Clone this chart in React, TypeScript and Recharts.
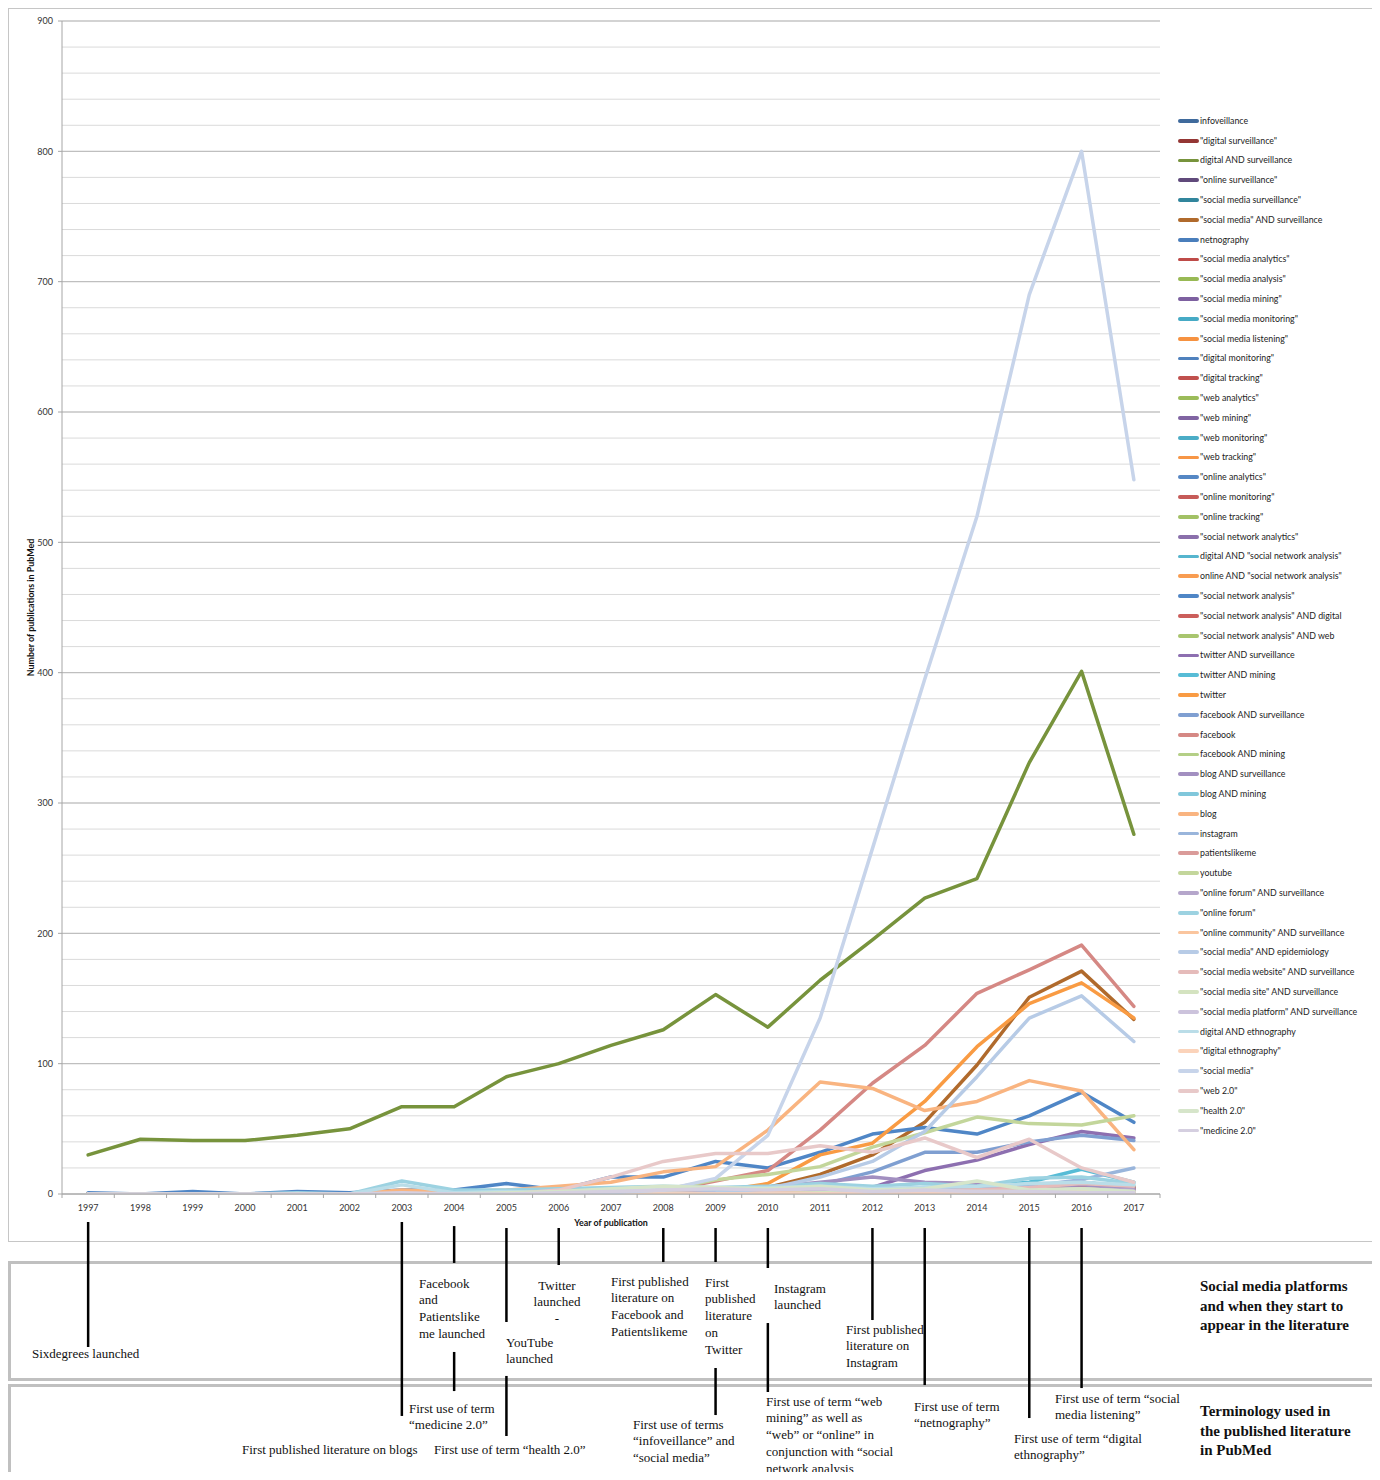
import React from 'react';
import { LineChart, Line, XAxis, YAxis, CartesianGrid, Legend, ReferenceLine, Label } from 'recharts';

// ---------- categories ----------
const YEARS = ['1997','1998','1999','2000','2001','2002','2003','2004','2005','2006','2007','2008','2009','2010','2011','2012','2013','2014','2015','2016','2017'];
const Y_MAJOR_TICKS = [0, 100, 200, 300, 400, 500, 600, 700, 800, 900];
const Y_MINOR_TICKS = Array.from({ length: 46 }, (_, i) => i * 20);

// ---------- series values (1997 .. 2017) ----------
const infoveillance = [0,0,0,0,0,0,0,0,0,0,0,0,1,2,3,2,3,2,3,2,1];
const digitalSurveillanceQ = [0,0,0,0,0,0,0,0,0,0,0,0,0,0,1,1,2,3,4,6,5];
const digitalAndSurveillance = [30,42,41,41,45,50,67,67,90,100,114,126,153,128,164,195,227,242,331,401,276];
const onlineSurveillanceQ = [0,0,0,0,0,0,0,0,1,0,0,1,0,1,2,2,3,2,3,4,2];
const smSurveillanceQ = [0,0,0,0,0,0,0,0,0,0,0,0,0,0,1,2,4,5,7,9,5];
const smAndSurveillance = [0,0,0,0,0,0,0,0,0,0,0,0,1,5,15,30,55,99,151,171,134];
const netnography = [0,0,0,0,0,0,0,0,0,0,0,0,0,0,0,0,1,2,1,3,2];
const smAnalyticsQ = [0,0,0,0,0,0,0,0,0,0,0,0,0,0,0,1,1,2,3,4,3];
const smAnalysisQ = [0,0,0,0,0,0,0,0,0,0,0,0,0,1,1,3,4,6,5,8,6];
const smMiningQ = [0,0,0,0,0,0,0,0,0,0,0,0,0,0,0,1,2,3,4,6,5];
const smMonitoringQ = [0,0,0,0,0,0,0,0,0,0,0,0,0,0,1,2,4,5,6,8,5];
const smListeningQ = [0,0,0,0,0,0,0,0,0,0,0,0,0,0,0,0,0,0,0,1,1];
const digitalMonitoringQ = [0,0,0,0,0,0,1,0,1,0,2,1,2,3,2,4,3,4,6,9,5];
const digitalTrackingQ = [0,0,0,0,0,0,0,0,1,0,0,0,1,0,1,1,2,2,3,2,2];
const webAnalyticsQ = [0,0,0,0,0,0,0,0,0,1,0,1,0,2,1,1,1,2,2,1,1];
const webMiningQ = [0,0,0,0,0,0,0,0,0,0,0,0,0,1,2,2,1,2,1,1,1];
const webMonitoringQ = [0,0,0,0,0,1,0,1,0,1,1,2,1,1,2,1,2,1,2,1,1];
const webTrackingQ = [0,0,0,0,0,0,0,0,0,0,1,0,0,1,1,2,1,2,1,2,1];
const onlineAnalyticsQ = [0,0,0,0,0,0,0,0,0,0,0,0,0,0,0,0,0,1,0,0,0];
const onlineMonitoringQ = [0,0,0,0,0,0,1,0,0,1,0,1,2,2,3,2,4,3,4,5,3];
const onlineTrackingQ = [0,0,0,0,0,0,0,0,0,0,0,1,0,0,0,1,0,0,1,1,0];
const snAnalyticsQ = [0,0,0,0,0,0,0,0,0,0,0,0,0,0,0,0,0,1,0,1,1];
const digitalAndSna = [0,0,0,0,0,0,0,0,0,0,0,0,0,1,0,1,2,3,2,4,3];
const onlineAndSna = [0,0,0,0,0,0,0,0,0,0,0,0,0,1,2,3,4,5,4,6,5];
const snaQ = [1,0,2,0,2,1,3,3,8,3,13,13,25,20,32,46,51,46,60,78,55];
const snaAndDigital = [0,0,0,0,0,0,0,0,0,0,0,0,1,0,1,2,3,4,4,7,4];
const snaAndWeb = [0,0,0,0,0,0,0,0,0,0,0,1,2,1,3,2,2,3,2,3,1];
const twitterAndSurveillance = [0,0,0,0,0,0,0,0,0,0,0,0,0,1,3,5,18,26,38,48,43];
const twitterAndMining = [0,0,0,0,0,0,0,0,0,0,0,0,0,0,1,3,5,6,9,19,9];
const twitter = [0,0,0,0,0,0,0,0,0,0,0,0,2,8,30,39,71,113,146,162,135];
const facebookAndSurveillance = [0,0,0,0,0,0,0,0,0,0,0,0,0,2,7,17,32,32,40,45,41];
const facebook = [0,0,0,0,0,0,0,0,0,0,0,2,10,18,49,85,114,154,172,191,144];
const facebookAndMining = [0,0,0,0,0,0,0,0,0,0,0,0,0,0,1,1,2,2,3,4,2];
const blogAndSurveillance = [0,0,0,0,0,0,0,0,0,0,1,2,3,5,9,13,9,8,6,7,4];
const blogAndMining = [0,0,0,0,0,0,0,0,0,0,1,1,2,3,4,3,4,3,3,2,1];
const blog = [0,0,0,0,0,0,3,2,3,6,9,17,21,49,86,81,64,71,87,79,34];
const instagram = [0,0,0,0,0,0,0,0,0,0,0,0,0,0,0,1,1,3,6,11,20];
const patientslikeme = [0,0,0,0,0,0,0,0,0,0,0,1,1,2,3,2,4,3,4,3,2];
const youtube = [0,0,0,0,0,0,0,0,0,0,1,3,11,15,21,36,47,59,54,53,60];
const onlineForumAndSurveillance = [0,0,0,0,0,0,0,0,1,0,1,0,1,1,2,2,3,4,3,4,3];
const onlineForumQ = [0,0,0,0,1,0,10,3,3,4,5,6,5,6,8,6,8,6,12,13,8];
const onlineCommunityAndSurveillance = [0,0,0,0,0,0,0,0,0,1,0,1,0,1,1,2,2,3,2,3,1];
const smAndEpidemiology = [0,0,0,0,0,0,0,0,0,0,0,0,1,4,13,25,48,90,135,152,117];
const smWebsiteAndSurveillance = [0,0,0,0,0,0,0,0,0,0,0,0,0,0,1,1,2,3,5,8,6];
const smSiteAndSurveillance = [0,0,0,0,0,0,0,0,0,0,0,0,0,0,1,1,1,2,2,4,2];
const smPlatformAndSurveillance = [0,0,0,0,0,0,0,0,0,0,0,0,0,0,0,1,1,1,2,3,2];
const digitalAndEthnography = [0,0,0,0,0,0,7,1,2,1,2,3,4,5,6,4,5,6,8,9,7];
const digitalEthnographyQ = [0,0,0,0,0,0,0,0,0,0,0,0,0,0,0,0,0,0,1,2,1];
const socialMediaQ = [0,0,0,0,0,0,0,0,0,0,1,3,12,45,135,265,395,520,690,800,548];
const web20Q = [0,0,0,0,0,0,0,0,0,3,13,25,31,31,37,32,43,28,42,20,9];
const health20Q = [0,0,0,0,0,0,0,0,1,2,4,6,5,4,6,3,4,10,3,4,2];
const medicine20Q = [0,0,0,0,0,0,1,0,0,1,2,3,4,3,4,2,3,2,2,1,1];

// ---------- series names (legend order) ----------
const SERIES_NAMES = [
  'infoveillance', '"digital surveillance"', 'digital AND surveillance', '"online surveillance"',
  '"social media surveillance"', '"social media" AND surveillance', 'netnography', '"social media analytics"',
  '"social media analysis"', '"social media mining"', '"social media monitoring"', '"social media listening"',
  '"digital monitoring"', '"digital tracking"', '"web analytics"', '"web mining"', '"web monitoring"',
  '"web tracking"', '"online analytics"', '"online monitoring"', '"online tracking"', '"social network analytics"',
  'digital AND "social network analysis"', 'online AND "social network analysis"', '"social network analysis"',
  '"social network analysis" AND digital', '"social network analysis" AND web', 'twitter AND surveillance',
  'twitter AND mining', 'twitter', 'facebook AND surveillance', 'facebook', 'facebook AND mining',
  'blog AND surveillance', 'blog AND mining', 'blog', 'instagram', 'patientslikeme', 'youtube',
  '"online forum" AND surveillance', '"online forum"', '"online community" AND surveillance',
  '"social media" AND epidemiology', '"social media website" AND surveillance', '"social media site" AND surveillance',
  '"social media platform" AND surveillance', 'digital AND ethnography', '"digital ethnography"', '"social media"',
  '"web 2.0"', '"health 2.0"', '"medicine 2.0"',
];

const SERIES_VALUES = [
  infoveillance, digitalSurveillanceQ, digitalAndSurveillance, onlineSurveillanceQ, smSurveillanceQ,
  smAndSurveillance, netnography, smAnalyticsQ, smAnalysisQ, smMiningQ, smMonitoringQ, smListeningQ,
  digitalMonitoringQ, digitalTrackingQ, webAnalyticsQ, webMiningQ, webMonitoringQ, webTrackingQ,
  onlineAnalyticsQ, onlineMonitoringQ, onlineTrackingQ, snAnalyticsQ, digitalAndSna, onlineAndSna, snaQ,
  snaAndDigital, snaAndWeb, twitterAndSurveillance, twitterAndMining, twitter, facebookAndSurveillance,
  facebook, facebookAndMining, blogAndSurveillance, blogAndMining, blog, instagram, patientslikeme, youtube,
  onlineForumAndSurveillance, onlineForumQ, onlineCommunityAndSurveillance, smAndEpidemiology,
  smWebsiteAndSurveillance, smSiteAndSurveillance, smPlatformAndSurveillance, digitalAndEthnography,
  digitalEthnographyQ, socialMediaQ, web20Q, health20Q, medicine20Q,
];

// ---------- styles ----------
const SERIES_COLORS = [
  '#3F6A9C', '#943634', '#77933C', '#604A7B', '#31859C', '#B06A2C',
  '#4A7EBB', '#BE4B48', '#98B954', '#7D60A0', '#46AAC5', '#F69240',
  '#4F81BD', '#C0504D', '#9BBB59', '#8064A2', '#4BACC6', '#F79646',
  '#5587C4', '#C65B58', '#A2C165', '#8A6FAB', '#56B5CE', '#F89C51',
  '#4F86C6', '#CB5E5B', '#A8C56E', '#8D6FB0', '#57BCD6', '#F99B43',
  '#7F9FD1', '#D58884', '#B4CF86', '#A28FC0', '#80C7DB', '#F9B480',
  '#99B5DB', '#DA9B99', '#C3D69B', '#B5A6CB', '#9CD2E1', '#FAC59E',
  '#B7CBE6', '#E5BBBA', '#D4E3C0', '#CCC3DC', '#BADDE8', '#FBD3BA',
  '#C7D4EA', '#E8C9C9', '#D6E5CA', '#D5CFE0',
];

// ---------- timeline annotations (year, vertical extent in axis units below 0) ----------
const MARKERS = [
  { year: '1997', from: -21.5, to: -117.4 },
  { year: '2003', from: -21.5, to: -170.3 },
  { year: '2004', from: -24.6, to: -52.9 },
  { year: '2004', from: -121.2, to: -151.2 },
  { year: '2005', from: -26.1, to: -98.2 },
  { year: '2005', from: -139.6, to: -185.7 },
  { year: '2006', from: -26.1, to: -54.5 },
  { year: '2008', from: -26.1, to: -52.2 },
  { year: '2009', from: -26.1, to: -52.2 },
  { year: '2009', from: -133.5, to: -169.6 },
  { year: '2010', from: -26.1, to: -56.8 },
  { year: '2010', from: -99.0, to: -151.9 },
  { year: '2012', from: -26.1, to: -96.7 },
  { year: '2013', from: -26.1, to: -146.6 },
  { year: '2015', from: -26.1, to: -171.9 },
  { year: '2016', from: -26.1, to: -148.9 },
];

const SERIES = SERIES_NAMES.map((name, i) => ({ key: 's' + i, name, color: SERIES_COLORS[i], values: SERIES_VALUES[i] }));
const DATA = YEARS.map((year, yi) => {
  const row: Record<string, string | number> = { year };
  SERIES.forEach((s) => { row[s.key] = s.values[yi]; });
  return row;
});

// ---------- layout ----------
const W = 1370;
const H = 1472;
const MARGIN = { top: 13, right: 218, bottom: 256, left: 0 };
const Y_AXIS_W = 54;
const X_AXIS_H = 30;
const PLOT_W = W - MARGIN.right - MARGIN.left - Y_AXIS_W;
const HALF_BAND = PLOT_W / YEARS.length / 2;
const X_TICK_SIZE = 4;
const X_TICK_MARGIN = 4;
const AXIS_COLOR = '#a6a6a6';
const TEXT_COLOR = '#333333';
const SERIF = '"Liberation Serif", "Times New Roman", serif';

const XTick = (props: any) => {
  const { x, y, payload, index } = props;
  const axisY = y - X_TICK_SIZE - X_TICK_MARGIN;
  return (
    <g>
      <line x1={x + HALF_BAND} x2={x + HALF_BAND} y1={axisY} y2={axisY + 4} stroke={AXIS_COLOR} />
      {index === 0 && <line x1={x - HALF_BAND} x2={x - HALF_BAND} y1={axisY} y2={axisY + 4} stroke={AXIS_COLOR} />}
      <text x={x} y={axisY + 13} textAnchor="middle" dominantBaseline="central" fontSize={9} fill={TEXT_COLOR}>
        {payload.value}
      </text>
    </g>
  );
};

const YLabel = (props: any) => {
  const vb = props.viewBox || { x: 0, y: 0, width: 0, height: 0 };
  const cx = vb.x + 22;
  const cy = vb.y + vb.height / 2;
  return (
    <text x={cx} y={cy} transform={`rotate(-90 ${cx} ${cy})`} textAnchor="middle" dominantBaseline="central"
      fontSize={8.9} fontWeight={700} fill="#111">
      Number of publications in PubMed
    </text>
  );
};

const XLabel = (props: any) => {
  const vb = props.viewBox || { x: 0, y: 0, width: 0, height: 0 };
  return (
    <text x={vb.x + vb.width / 2} y={vb.y + 28} textAnchor="middle" dominantBaseline="central"
      fontSize={8.9} fontWeight={700} fill="#111">
      Year of publication
    </text>
  );
};

const LegendContent = () => (
  <div style={{ width: 200 }}>
    {SERIES.map((s) => (
      <div key={s.key} style={{ height: 19.8, display: 'flex', alignItems: 'center' }}>
        <span style={{ width: 21, height: 3.8, background: s.color, borderRadius: 2, marginRight: 1, flex: 'none' }} />
        <span style={{ fontSize: 8.8, color: '#222', whiteSpace: 'nowrap', lineHeight: '10px' }}>{s.name}</span>
      </div>
    ))}
  </div>
);

type Note = { left: number; top: number; lines: string[]; align?: 'left' | 'center'; width?: number; bold?: boolean };
const NOTES: Note[] = [
  { left: 24, top: 1337.7, lines: ['Sixdegrees launched'] },
  { left: 411, top: 1267.7, lines: ['Facebook', 'and', 'Patientslike', 'me launched'] },
  { left: 519, top: 1269.7, lines: ['Twitter', 'launched', '-'], align: 'center', width: 60 },
  { left: 498, top: 1326.7, lines: ['YouTube', 'launched'] },
  { left: 603, top: 1265.7, lines: ['First published', 'literature on', 'Facebook and', 'Patientslikeme'] },
  { left: 697, top: 1266.7, lines: ['First', 'published', 'literature', 'on', 'Twitter'] },
  { left: 766, top: 1272.7, lines: ['Instagram', 'launched'] },
  { left: 838, top: 1313.7, lines: ['First published', 'literature on', 'Instagram'] },
  { left: 401, top: 1392.7, lines: ['First use of term', '\u201Cmedicine 2.0\u201D'] },
  { left: 234, top: 1433.7, lines: ['First published literature on blogs'] },
  { left: 426, top: 1433.7, lines: ['First use of term \u201Chealth 2.0\u201D'] },
  { left: 625, top: 1408.7, lines: ['First use of terms', '\u201Cinfoveillance\u201D and', '\u201Csocial media\u201D'] },
  { left: 758, top: 1385.7, lines: ['First use of term \u201Cweb', 'mining\u201D as well as', '\u201Cweb\u201D or \u201Conline\u201D in', 'conjunction with \u201Csocial', 'network analysis'] },
  { left: 906, top: 1390.7, lines: ['First use of term', '\u201Cnetnography\u201D'] },
  { left: 1006, top: 1422.7, lines: ['First use of term \u201Cdigital', 'ethnography\u201D'] },
  { left: 1047, top: 1382.7, lines: ['First use of term \u201Csocial', 'media listening\u201D'] },
];
const HEADINGS: Note[] = [
  { left: 1192, top: 1269.3, lines: ['Social media platforms', 'and when they start to', 'appear in the literature'], bold: true },
  { left: 1192, top: 1394.3, lines: ['Terminology used in', 'the published literature', 'in PubMed'], bold: true },
];

export default function App() {
  return (
    <div style={{ position: 'relative', width: W, height: H, marginBottom: -8, overflow: 'hidden', fontFamily: 'Lato, "Open Sans", sans-serif', background: '#fff' }}>
      {/* chart frame */}
      <div style={{ position: 'absolute', left: 0, top: 0, width: 1370, height: 1234, border: '1px solid #c6c6c6', boxSizing: 'border-box' }} />
      {/* timeline panels */}
      <div style={{ position: 'absolute', left: 0, top: 1253, width: 1367, height: 120, border: '3px solid #c0c0c0', boxSizing: 'border-box' }} />
      <div style={{ position: 'absolute', left: 0, top: 1376, width: 1367, height: 110, border: '3px solid #c0c0c0', boxSizing: 'border-box' }} />

      {NOTES.map((n, i) => (
        <div key={'n' + i} style={{ position: 'absolute', left: n.left, top: n.top, width: n.width, textAlign: n.align || 'left',
          fontFamily: SERIF, fontSize: 13, lineHeight: '16.7px', color: '#111', whiteSpace: 'nowrap' }}>
          {n.lines.map((l, j) => <div key={j}>{l}</div>)}
        </div>
      ))}
      {HEADINGS.map((n, i) => (
        <div key={'h' + i} style={{ position: 'absolute', left: n.left, top: n.top,
          fontFamily: SERIF, fontSize: 15, fontWeight: 700, lineHeight: '19.5px', color: '#111', whiteSpace: 'nowrap' }}>
          {n.lines.map((l, j) => <div key={j}>{l}</div>)}
        </div>
      ))}

      <div style={{ position: 'absolute', left: 0, top: 0 }}>
        <LineChart width={W} height={H} data={DATA} margin={MARGIN}>
          <CartesianGrid vertical={false} stroke="#dadada" horizontalValues={Y_MINOR_TICKS} />
          <CartesianGrid vertical={false} stroke="#b9b9b9" horizontalValues={Y_MAJOR_TICKS} />
          <XAxis dataKey="year" interval={0} height={X_AXIS_H} padding={{ left: HALF_BAND, right: HALF_BAND }}
            tickSize={X_TICK_SIZE} tickMargin={X_TICK_MARGIN} tickLine={false} stroke={AXIS_COLOR} tick={<XTick />}>
            <Label content={<XLabel />} />
          </XAxis>
          <YAxis width={Y_AXIS_W} domain={[0, 900]} ticks={Y_MAJOR_TICKS} interval={0} tickSize={4} tickMargin={5}
            stroke={AXIS_COLOR} tick={{ fontSize: 9, fill: TEXT_COLOR }} allowDataOverflow>
            <Label content={<YLabel />} />
          </YAxis>
          {SERIES.map((s) => (
            <Line key={s.key} dataKey={s.key} name={s.name} stroke={s.color} strokeWidth={3.5} dot={false} activeDot={false}
              type="linear" isAnimationActive={false} strokeLinejoin="round" strokeLinecap="round" />
          ))}
          {MARKERS.map((m, i) => (
            <ReferenceLine key={'m' + i} ifOverflow="visible" stroke="#000" strokeWidth={2.5}
              segment={[{ x: m.year, y: m.from }, { x: m.year, y: m.to }]} />
          ))}
          <Legend layout="vertical" align="center" verticalAlign="middle" content={<LegendContent />}
            wrapperStyle={{ left: 1170, top: 103, width: 200 }} />
        </LineChart>
      </div>
    </div>
  );
}
